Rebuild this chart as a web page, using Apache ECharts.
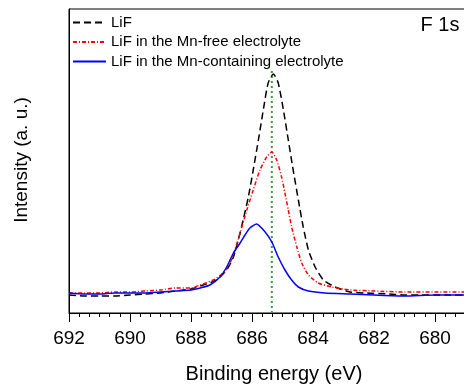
<!DOCTYPE html>
<html>
<head>
<meta charset="utf-8">
<script src="https://cdn.jsdelivr.net/npm/echarts@6/dist/echarts.min.js"></script>
<style>
  html, body { margin: 0; padding: 0; background: #fff; }
  #main { width: 464px; height: 384px; }
</style>
</head>
<body>
<div id="main"></div>
<script>
// [binding energy (eV), intensity (a.u.)]
var lifData = [
    [692, 18], [691.5, 17], [691, 17], [690.5, 17], [690, 18], [689.5, 19], [689, 20], [688.5, 22],
    [688, 24], [687.6, 28], [687.16, 33], [686.83, 43], [686.61, 56], [686.45, 73], [686.29, 93],
    [686.12, 116], [685.96, 143], [685.79, 173], [685.63, 203], [685.47, 230], [685.3, 239],
    [685.14, 230], [684.97, 203], [684.81, 173], [684.65, 143], [684.48, 113], [684.32, 86],
    [684.15, 63], [683.93, 46], [683.66, 33], [683.28, 26], [682.79, 21], [682.3, 20], [681.5, 19],
    [681, 18], [680.5, 18], [680, 18], [679.5, 18], [679, 18]
];
var mnFreeData = [
    [692, 20], [691.5, 20], [691, 20], [690.5, 21], [690, 21], [689.5, 22], [689, 23], [688.5, 25],
    [688, 25], [687.7, 28], [687.27, 33], [686.94, 40], [686.72, 50], [686.56, 63], [686.39, 80],
    [686.17, 103], [685.96, 123], [685.74, 143], [685.52, 156], [685.35, 161], [685.19, 153],
    [685.03, 136], [684.92, 120], [684.81, 103], [684.7, 86], [684.53, 66], [684.37, 50],
    [684.15, 38], [683.83, 30], [683.39, 26], [682.79, 23], [682, 22], [681, 21], [680, 21], [679, 21]
];
var mnContData = [
    [692, 20], [691.5, 19], [691, 19], [690.5, 20], [690, 20], [689.5, 20], [689, 21], [688.5, 22],
    [688, 23], [687.7, 25], [687.38, 28], [687.05, 36], [686.83, 46], [686.61, 60], [686.39, 70],
    [686.23, 78], [686.07, 85], [685.85, 89], [685.57, 81], [685.35, 71], [685.14, 56], [684.92, 43],
    [684.7, 33], [684.48, 26], [684.15, 22], [683.61, 20], [682.79, 19], [682, 18], [681, 17],
    [680, 18], [679, 18]
];
var refLine = [[685.35, 0], [685.35, 245]];
var seriesNames = ['LiF', 'LiF in the Mn-free electrolyte', 'LiF in the Mn-containing electrolyte'];
var seriesColors = ['#000000', '#ff0000', '#0000ff'];

var font = 'Liberation Sans, Arial, sans-serif';
var chart = echarts.init(document.getElementById('main'));

var option = {
    animation: false,
    textStyle: { fontFamily: font, color: '#000' },
    grid: {
        left: 69, top: 9, right: -32, bottom: 71,
        outerBoundsMode: 'none',
        show: true, borderColor: '#000', borderWidth: 1
    },
    legend: {
        data: seriesNames,
        orient: 'vertical',
        left: 72, top: 15, padding: 0,
        itemWidth: 33, itemHeight: 14, itemGap: 4.5,
        itemStyle: { opacity: 0 },
        textStyle: { fontSize: 15, color: '#000', fontFamily: font }
    },
    xAxis: {
        type: 'value',
        inverse: true,
        min: 678, max: 692, interval: 2,
        axisLine: { lineStyle: { color: '#000', width: 1 } },
        axisTick: { length: 9, lineStyle: { color: '#000' } },
        minorTick: { show: true, splitNumber: 6, length: 4, lineStyle: { color: '#000' } },
        axisLabel: { fontSize: 19, margin: 16, color: '#000', fontFamily: font },
        splitLine: { show: false }
    },
    yAxis: {
        type: 'value',
        min: 0, max: 304,
        axisLine: { show: true, lineStyle: { color: '#000', width: 1 } },
        axisTick: { show: false },
        axisLabel: { show: false },
        splitLine: { show: false }
    },
    graphic: [
        {
            type: 'text', x: 274, y: 374,
            style: { text: 'Binding energy (eV)', font: '20px ' + font, fill: '#000',
                     textAlign: 'center', textVerticalAlign: 'middle' }
        },
        {
            type: 'text', x: 22, y: 160, rotation: Math.PI / 2,
            style: { text: 'Intensity (a. u.)', font: '19px ' + font, fill: '#000',
                     textAlign: 'center', textVerticalAlign: 'middle' }
        },
        {
            type: 'text', x: 440, y: 25,
            style: { text: 'F 1s', font: '20px ' + font, fill: '#000',
                     textAlign: 'center', textVerticalAlign: 'middle' }
        }
    ],
    series: [
        {
            name: 'ref', type: 'line', data: refLine, symbol: 'none', silent: true, z: 1,
            itemStyle: { color: '#3a9e3a' },
            lineStyle: { color: '#3a9e3a', width: 2, type: [2, 3] }
        },
        {
            name: seriesNames[0], type: 'line', data: lifData, symbol: 'none', smooth: 0.2,
            itemStyle: { color: seriesColors[0] },
            lineStyle: { color: seriesColors[0], width: 1.5, type: [7, 4] }
        },
        {
            name: seriesNames[1], type: 'line', data: mnFreeData, symbol: 'none', smooth: 0.2,
            itemStyle: { color: seriesColors[1] },
            lineStyle: { color: seriesColors[1], width: 1.5, type: [4, 2, 1, 2] }
        },
        {
            name: seriesNames[2], type: 'line', data: mnContData, symbol: 'none', smooth: 0.2,
            itemStyle: { color: seriesColors[2] },
            lineStyle: { color: seriesColors[2], width: 1.5 }
        }
    ]
};
chart.setOption(option);
</script>
</body>
</html>
